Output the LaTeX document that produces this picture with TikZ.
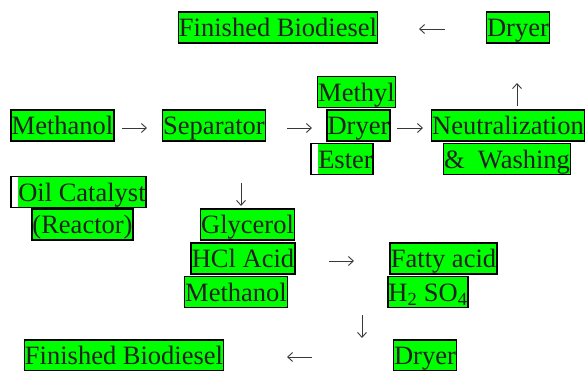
\documentclass[tikz,border=0pt]{standalone}
\usepackage{fontspec}
\setmainfont{Liberation Serif}
\usetikzlibrary{arrows.meta}
\definecolor{boxgreen}{HTML}{00FF00}
\definecolor{ink}{HTML}{222222}
\tikzset{
    gbox/.style={draw, line width=1.7pt, fill=boxgreen, text=ink, inner xsep=0.6pt, inner ysep=0.8pt,
        text height=24pt, text depth=5.3pt, font=\fontsize{26.5}{30}\selectfont},
    gapbox/.style={gbox, path picture={\fill[white] (path picture bounding box.south west) rectangle ([xshift=7pt]path picture bounding box.north west);}},
    arr/.style={ink!90, line width=0.9pt, -{Straight Barb[length=5pt,width=9pt]}}
}
\begin{document}
\begin{tikzpicture}[x=1pt,y=-1pt]
    \useasboundingbox (0,0) rectangle (585,371);

    % top row
    \node[gbox] (fin1) at (278,27.5) {Finished Biodiesel};
    \node[gbox] (dry1) at (518,27.5) {Dryer};

    % middle row
    \node[gbox] (methyl) at (356.5,92) {Methyl};
    \node[gbox] (meth1) at (62.5,125.5) {Methanol};
    \node[gbox] (sep) at (214,125.5) {Separator};
    \node[gbox] (dry2) at (358.5,125.5) {Dryer};
    \node[gbox] (neut) at (508,125.5) {Neutralization};
    \node[gapbox] (ester) at (342,159) {\hspace*{7pt}Ester};
    \node[gbox] (wash) at (507,159) {\&~~Washing};
    \node[gapbox] (oil) at (78.5,192) {\hspace*{7pt}Oil Catalyst};
    \node[gbox] (reac) at (82.5,224.5) {(Reactor)};

    % lower part
    \node[gbox] (gly) at (247.5,224.5) {Glycerol};
    \node[gbox] (hcl) at (243,258.5) {HCl Acid};
    \node[gbox] (meth2) at (236,292) {Methanol};
    \node[gbox] (fatty) at (443.5,258.5) {Fatty acid};
    \node[gbox] (hso) at (428,292) {H\textsubscript{2} SO\textsubscript{4}};
    \node[gbox] (fin2) at (124,355.5) {Finished Biodiesel};
    \node[gbox] (dry3) at (425,355.5) {Dryer};

    % arrow ends
    \coordinate (d1a) at (445,29);   \coordinate (d1b) at (419,29);
    \coordinate (nua) at (517,106);  \coordinate (nub) at (517,83);
    \coordinate (m1a) at (122,128);  \coordinate (m1b) at (147,128);
    \coordinate (spa) at (287,128);  \coordinate (spb) at (312,128);
    \coordinate (d2a) at (397,128);  \coordinate (d2b) at (423,128);
    \coordinate (sda) at (241,183);  \coordinate (sdb) at (241,206);
    \coordinate (hca) at (329,261);  \coordinate (hcb) at (354,261);
    \coordinate (hsa) at (362,315);  \coordinate (hsb) at (362,338);
    \coordinate (d3a) at (312,357);  \coordinate (d3b) at (287,357);

    \draw[arr] (d1a) -- (d1b);
    \draw[arr] (nua) -- (nub);
    \draw[arr] (m1a) -- (m1b);
    \draw[arr] (spa) -- (spb);
    \draw[arr] (d2a) -- (d2b);
    \draw[arr] (sda) -- (sdb);
    \draw[arr] (hca) -- (hcb);
    \draw[arr] (hsa) -- (hsb);
    \draw[arr] (d3a) -- (d3b);
\end{tikzpicture}
\end{document}
